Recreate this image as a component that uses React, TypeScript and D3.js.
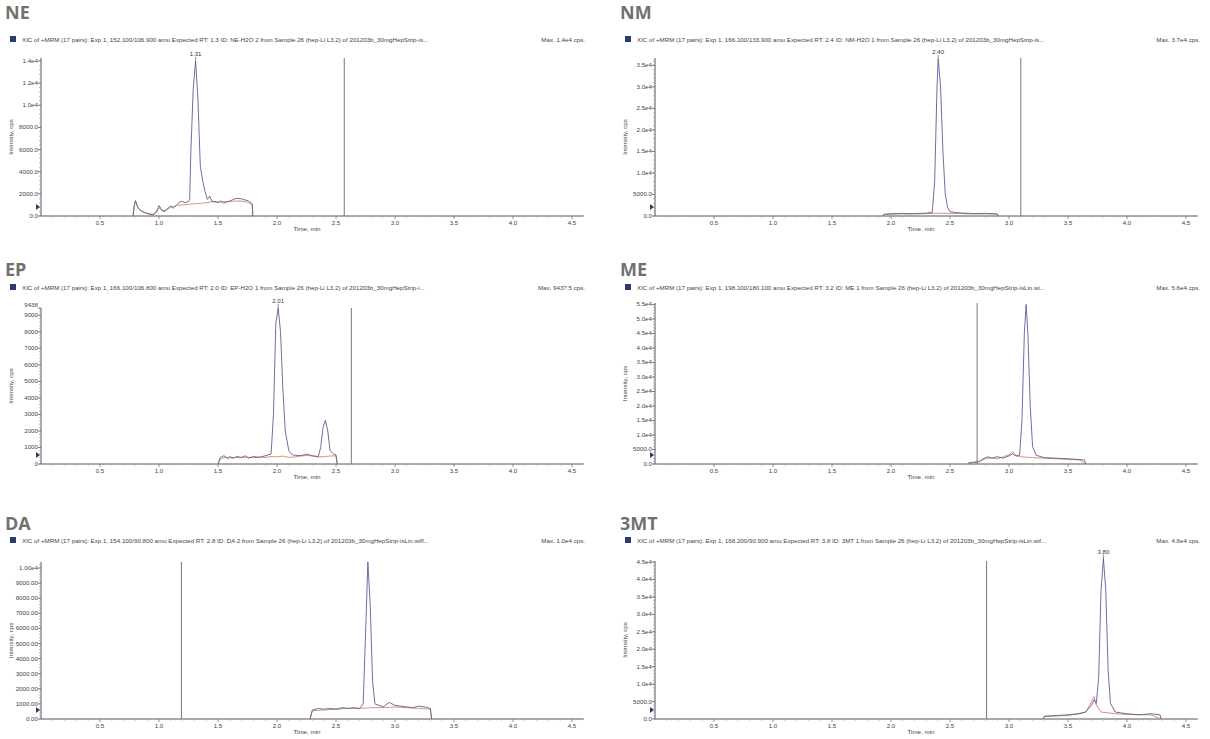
import React from "react";
import * as d3 from "d3";

// ---------- data (time in min, intensity in cps) ----------
const neBlue: [number, number][] = [
  [0.78, 0], [0.79, 900], [0.8, 1400], [0.82, 800], [0.85, 450], [0.88, 300], [0.92, 150], [0.95, 100],
  [0.98, 350], [1.0, 950], [1.03, 450], [1.05, 400], [1.08, 750], [1.1, 900], [1.12, 700], [1.15, 1000],
  [1.18, 1300], [1.2, 1300], [1.22, 1200], [1.25, 1300], [1.26, 1500], [1.27, 5800], [1.29, 11500],
  [1.31, 14000], [1.33, 10500], [1.35, 4500], [1.37, 3200], [1.39, 2200], [1.41, 1500], [1.43, 1800],
  [1.45, 1300], [1.48, 1300], [1.5, 1200], [1.52, 1350], [1.55, 1150], [1.58, 1300], [1.6, 1350],
  [1.63, 1500], [1.66, 1600], [1.7, 1550], [1.73, 1450], [1.76, 1350], [1.78, 1200], [1.79, 1100], [1.795, 0]
];
const neRed: [number, number][] = [
  [0.78, 0], [0.79, 900], [0.8, 1300], [0.83, 600], [0.86, 400], [0.9, 250], [0.95, 150], [1.0, 750],
  [1.03, 450], [1.06, 550], [1.1, 800], [1.15, 950], [1.2, 1000], [1.25, 1050], [1.3, 1100], [1.35, 1150],
  [1.4, 1200], [1.45, 1300], [1.5, 1250], [1.55, 1300], [1.6, 1300], [1.65, 1350], [1.7, 1350],
  [1.75, 1250], [1.79, 1000], [1.795, 0]
];
const nmBlue: [number, number][] = [
  [1.93, 0], [1.94, 400], [2.0, 500], [2.05, 550], [2.1, 600], [2.15, 500], [2.2, 550], [2.25, 600],
  [2.3, 650], [2.35, 900], [2.37, 8000], [2.39, 30000], [2.4, 36500], [2.42, 30000], [2.44, 15000],
  [2.46, 5000], [2.48, 2000], [2.5, 1000], [2.55, 800], [2.6, 700], [2.7, 550], [2.8, 600], [2.9, 500], [2.91, 0]
];
const nmRed: [number, number][] = [
  [1.93, 0], [1.94, 350], [2.0, 450], [2.1, 500], [2.2, 500], [2.3, 550], [2.4, 650], [2.5, 600],
  [2.6, 550], [2.7, 500], [2.8, 500], [2.9, 450], [2.91, 0]
];
const epBlue: [number, number][] = [
  [1.5, 0], [1.52, 400], [1.55, 500], [1.58, 350], [1.6, 450], [1.63, 350], [1.66, 450], [1.7, 400],
  [1.73, 500], [1.76, 350], [1.8, 450], [1.85, 400], [1.9, 500], [1.95, 600], [1.97, 3000], [1.99, 8500],
  [2.01, 9437], [2.03, 8000], [2.05, 4500], [2.07, 2000], [2.1, 800], [2.13, 550], [2.2, 500], [2.25, 600],
  [2.3, 500], [2.35, 450], [2.37, 1000], [2.39, 2200], [2.41, 2650], [2.43, 2000], [2.45, 800],
  [2.48, 600], [2.5, 550], [2.51, 0]
];
const epRed: [number, number][] = [
  [1.5, 0], [1.52, 300], [1.56, 400], [1.6, 350], [1.65, 400], [1.7, 380], [1.75, 420], [1.8, 380],
  [1.85, 420], [1.9, 400], [1.95, 450], [2.0, 430], [2.05, 480], [2.1, 400], [2.15, 430], [2.2, 480],
  [2.25, 520], [2.3, 480], [2.35, 420], [2.4, 450], [2.45, 480], [2.5, 500], [2.51, 0]
];
const meBlue: [number, number][] = [
  [2.65, 0], [2.66, 500], [2.7, 600], [2.75, 800], [2.78, 1800], [2.82, 2500], [2.85, 2000], [2.9, 2500],
  [2.95, 2000], [3.0, 2800], [3.03, 3500], [3.06, 2800], [3.09, 3000], [3.11, 15000], [3.13, 45000],
  [3.145, 55000], [3.16, 45000], [3.18, 20000], [3.2, 6000], [3.23, 3000], [3.3, 2200], [3.4, 2000],
  [3.5, 1800], [3.6, 1500], [3.64, 1400], [3.65, 0]
];
const meRed: [number, number][] = [
  [2.65, 0], [2.7, 500], [2.75, 900], [2.8, 1800], [2.85, 2200], [2.9, 1800], [2.95, 2500], [3.0, 3200],
  [3.03, 4300], [3.06, 2800], [3.1, 2500], [3.2, 2200], [3.3, 2000], [3.4, 1800], [3.5, 1600],
  [3.6, 1400], [3.65, 0]
];
const daBlue: [number, number][] = [
  [2.28, 0], [2.3, 600], [2.35, 700], [2.4, 650], [2.45, 700], [2.5, 650], [2.55, 750], [2.6, 700],
  [2.65, 750], [2.7, 700], [2.73, 1000], [2.75, 5500], [2.77, 10400], [2.79, 7500], [2.81, 2500],
  [2.83, 1000], [2.9, 800], [2.95, 1100], [3.0, 900], [3.05, 850], [3.1, 800], [3.15, 750], [3.2, 850],
  [3.25, 800], [3.3, 700], [3.31, 0]
];
const daRed: [number, number][] = [
  [2.28, 0], [2.3, 550], [2.4, 600], [2.5, 650], [2.6, 700], [2.7, 700], [2.8, 750], [2.9, 750],
  [3.0, 800], [3.1, 750], [3.2, 700], [3.3, 650], [3.31, 0]
];
const mtBlue: [number, number][] = [
  [3.29, 0], [3.3, 800], [3.4, 1000], [3.5, 1200], [3.6, 1500], [3.65, 2000], [3.7, 4000], [3.72, 5500],
  [3.74, 4500], [3.76, 12000], [3.78, 37000], [3.8, 46000], [3.82, 37000], [3.84, 14000], [3.86, 4500],
  [3.9, 2000], [4.0, 1500], [4.1, 1200], [4.2, 1500], [4.28, 1200], [4.29, 0]
];
const mtRed: [number, number][] = [
  [3.29, 0], [3.3, 700], [3.5, 1000], [3.65, 2000], [3.7, 5000], [3.72, 6500], [3.74, 4000],
  [3.78, 2000], [3.9, 1500], [4.0, 1300], [4.2, 1200], [4.29, 0]
];

const titles = ["NE", "NM", "EP", "ME", "DA", "3MT"];
const headers = [
  "XIC of +MRM (17 pairs): Exp 1, 152.100/106.900 amu Expected RT: 1.3 ID: NE-H2O 2 from Sample 26 (hep-Li L3.2) of 201203b_30mgHepStrip-is...",
  "XIC of +MRM (17 pairs): Exp 1, 166.100/133.900 amu Expected RT: 2.4 ID: NM-H2O 1 from Sample 26 (hep-Li L3.2) of 201203b_30mgHepStrip-is...",
  "XIC of +MRM (17 pairs): Exp 1, 166.100/106.800 amu Expected RT: 2.0 ID: EP-H2O 1 from Sample 26 (hep-Li L3.2) of 201203b_30mgHepStrip-i...",
  "XIC of +MRM (17 pairs): Exp 1, 198.100/180.100 amu Expected RT: 3.2 ID: ME 1 from Sample 26 (hep-Li L3.2) of 201203b_30mgHepStrip-isLin.wi...",
  "XIC of +MRM (17 pairs): Exp 1, 154.100/90.800 amu Expected RT: 2.8 ID: DA 2 from Sample 26 (hep-Li L3.2) of 201203b_30mgHepStrip-isLin.wiff...",
  "XIC of +MRM (17 pairs): Exp 1, 168.200/90.900 amu Expected RT: 3.8 ID: 3MT 1 from Sample 26 (hep-Li L3.2) of 201203b_30mgHepStrip-isLin.wif..."
];
const maxLabels = ["Max. 1.4e4 cps.", "Max. 3.7e4 cps.", "Max. 9437.5 cps.", "Max. 5.6e4 cps.", "Max. 1.0e4 cps.", "Max. 4.6e4 cps."];
const yMax = [14270, 36700, 9438, 55500, 10400, 45300];
const yTicksNE = [0, 2000, 4000, 6000, 8000, 10000, 12000, 14000];
const yTickLabelsNE = ["0.0", "2000.0", "4000.0", "6000.0", "8000.0", "1.0e4", "1.2e4", "1.4e4"];
const yTicksNM = [0, 5000, 10000, 15000, 20000, 25000, 30000, 35000];
const yTickLabelsNM = ["0.0", "5000.0", "1.0e4", "1.5e4", "2.0e4", "2.5e4", "3.0e4", "3.5e4"];
const yTicksEP = [0, 1000, 2000, 3000, 4000, 5000, 6000, 7000, 8000, 9000, 9438];
const yTickLabelsEP = ["0", "1000", "2000", "3000", "4000", "5000", "6000", "7000", "8000", "9000", "9438"];
const yTicksME = [0, 5000, 10000, 15000, 20000, 25000, 30000, 35000, 40000, 45000, 50000, 55000];
const yTickLabelsME = ["0.0", "5000.0", "1.0e4", "1.5e4", "2.0e4", "2.5e4", "3.0e4", "3.5e4", "4.0e4", "4.5e4", "5.0e4", "5.5e4"];
const yTicksDA = [0, 1000, 2000, 3000, 4000, 5000, 6000, 7000, 8000, 9000, 10000];
const yTickLabelsDA = ["0.00", "1000.00", "2000.00", "3000.00", "4000.00", "5000.00", "6000.00", "7000.00", "8000.00", "9000.00", "1.00e4"];
const yTicks3MT = [0, 5000, 10000, 15000, 20000, 25000, 30000, 35000, 40000, 45000];
const yTickLabels3MT = ["0.0", "5000.0", "1.0e4", "1.5e4", "2.0e4", "2.5e4", "3.0e4", "3.5e4", "4.0e4", "4.5e4"];
const yMinorStep = [400, 1000, 200, 1000, 200, 1000];
const xTicks = [0.5, 1.0, 1.5, 2.0, 2.5, 3.0, 3.5, 4.0, 4.5];
const xTickLabels = ["0.5", "1.0", "1.5", "2.0", "2.5", "3.0", "3.5", "4.0", "4.5"];
const markerLines = [2.57, 3.10, 2.63, 2.73, 1.19, 2.81];
const peakLabels: ([number, number, string] | null)[] = [
  [1.31, 14000, "1.31"], [2.40, 36500, "2.40"], [2.01, 9437, "2.01"], null, null, [3.80, 46000, "3.80"]
];

const blues = [neBlue, nmBlue, epBlue, meBlue, daBlue, mtBlue];
const reds = [neRed, nmRed, epRed, meRed, daRed, mtRed];
const yTickSets = [yTicksNE, yTicksNM, yTicksEP, yTicksME, yTicksDA, yTicks3MT];
const yLabelSets = [yTickLabelsNE, yTickLabelsNM, yTickLabelsEP, yTickLabelsME, yTickLabelsDA, yTickLabels3MT];

// ---------- layout ----------
const colX = [41, 655];
const rowBottom = [216, 464, 719];
const rowTop = [[58, 58], [308, 303], [562, 561]];
const titleY = [19, 276, 530];
const headerY = [42, 290, 543];
const PX_PER_MIN = 118;
const X_END = 4.6;

const FONT = "'Liberation Sans', Arial, sans-serif";
const BLUE = "#5e5e98";
const RED = "#d8846f";

function Panel({ i }: { i: number }) {
  const col = i % 2;
  const row = Math.floor(i / 2);
  const x0 = colX[col];
  const yb = rowBottom[row];
  const yt = rowTop[row][col];
  const x = d3.scaleLinear().domain([0, X_END]).range([x0, x0 + X_END * PX_PER_MIN]);
  const y = d3.scaleLinear().domain([0, yMax[i]]).range([yb, yt]);
  const line = d3.line<[number, number]>().x((d) => x(d[0])).y((d) => y(d[1]));
  const minorX = d3.range(0.1, X_END, 0.1).filter((v) => Math.abs(v * 2 - Math.round(v * 2)) > 1e-6);
  const minorY = d3.range(0, yMax[i], yMinorStep[i]);
  const left = col === 0 ? 0 : 615;
  const rightEdge = col === 0 ? 585 : 1200;
  const pk = peakLabels[i];
  const ticks = yTickSets[i];
  const labels = yLabelSets[i];
  return (
    <g>
      <text x={left + 5} y={titleY[row]} fontFamily="'Open Sans', 'DejaVu Sans', sans-serif" fontWeight="bold" fontSize={18} fill="#717171">
        {titles[i]}
      </text>
      <rect x={left + 10} y={headerY[row] - 6} width={6} height={6} fill="#2c3a6e" />
      <text x={left + 22} y={headerY[row]} fontFamily={FONT} fontSize={6.2} fill="#444">{headers[i]}</text>
      <text x={rightEdge} y={headerY[row]} fontFamily={FONT} fontSize={6.2} fill="#444" textAnchor="end">{maxLabels[i]}</text>

      {/* axes */}
      <line x1={x0} x2={x0} y1={yt} y2={yb} stroke="#555" strokeWidth={1} />
      <line x1={x0} x2={x(X_END)} y1={yb} y2={yb} stroke="#555" strokeWidth={1} />
      {minorX.map((v) => (
        <line key={"mx" + v} x1={x(v)} x2={x(v)} y1={yb} y2={yb + 2} stroke="#bbb" strokeWidth={0.8} />
      ))}
      {xTicks.map((v, k) => (
        <g key={"xt" + v}>
          <line x1={x(v)} x2={x(v)} y1={yb} y2={yb + 3} stroke="#777" strokeWidth={0.8} />
          <text x={x(v)} y={yb + 8.5} fontFamily={FONT} fontSize={6.2} fill="#444" textAnchor="middle">{xTickLabels[k]}</text>
        </g>
      ))}
      <text x={x0 + 266} y={yb + 15} fontFamily={FONT} fontSize={6.2} fill="#444" textAnchor="middle">Time, min</text>
      {minorY.map((v) => (
        <line key={"my" + v} x1={x0 - 2} x2={x0} y1={y(v)} y2={y(v)} stroke="#aaa" strokeWidth={0.8} />
      ))}
      {ticks.map((v, k) => (
        <g key={"yt" + v}>
          <line x1={x0 - 3} x2={x0} y1={y(v)} y2={y(v)} stroke="#666" strokeWidth={0.8} />
          <text x={x0 - 3} y={y(v) + (i === 2 && k === ticks.length - 1 ? -1 : 2)} fontFamily={FONT} fontSize={6.2} fill="#444" textAnchor="end">{labels[k]}</text>
        </g>
      ))}
      <text transform={`translate(${x0 - 28},${(yt + yb) / 2}) rotate(-90)`} fontFamily={FONT} fontSize={6.2} fill="#444" textAnchor="middle">Intensity, cps</text>
      <path d={`M${x0 - 5},${yb - 12} L${x0 - 1},${yb - 9} L${x0 - 5},${yb - 6} Z`} fill="#2c3a6e" />

      {/* marker line */}
      <line x1={x(markerLines[i])} x2={x(markerLines[i])} y1={yt} y2={yb} stroke="#777" strokeWidth={1} />

      {/* traces */}
      <path d={line(reds[i]) || ""} fill="none" stroke={RED} strokeWidth={0.9} />
      <path d={line(blues[i]) || ""} fill="none" stroke={BLUE} strokeWidth={0.9} />
      {pk && (
        <g>
          <line x1={x(pk[0])} x2={x(pk[0])} y1={y(pk[1]) - 4} y2={y(pk[1])} stroke="#444" strokeWidth={0.6} />
          <text x={x(pk[0])} y={y(pk[1]) - 5} fontFamily={FONT} fontSize={6} fill="#333" textAnchor="middle">{pk[2]}</text>
        </g>
      )}
    </g>
  );
}

export default function App() {
  return (
    <svg width={1210} height={739} style={{ position: "absolute", left: 0, top: 0, background: "#fff" }}>
      <rect width={1210} height={739} fill="#fff" />
      {titles.map((_, i) => (
        <Panel key={i} i={i} />
      ))}
    </svg>
  );
}
